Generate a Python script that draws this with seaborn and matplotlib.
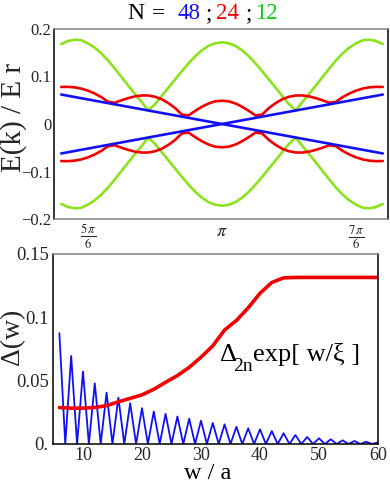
import numpy as np
import matplotlib
matplotlib.use("Agg")
import matplotlib.pyplot as plt
from matplotlib.transforms import IdentityTransform
import seaborn as sns

sns.set_theme(style="white")
plt.rcParams['font.family'] = ['Liberation Serif', 'DejaVu Serif']
plt.rcParams['mathtext.fontset'] = 'stix'

# ---- top panel: band energies E(k)/E_r, k from 0.8*pi to 1.2*pi ----
k_frac = np.linspace(0.8, 1.2, 49)

green_upper = [0.1683, 0.1748, 0.1775, 0.1763, 0.1696, 0.1607, 0.1485, 0.1336, 0.1165, 0.0988,
               0.0809, 0.0634, 0.0464, 0.0285, 0.0419, 0.0591, 0.0764, 0.0937, 0.1111, 0.1276,
               0.1427, 0.1552, 0.1645, 0.1701, 0.1720, 0.1701, 0.1645, 0.1552, 0.1427, 0.1276,
               0.1111, 0.0937, 0.0764, 0.0591, 0.0419, 0.0285, 0.0464, 0.0634, 0.0809, 0.0988,
               0.1165, 0.1336, 0.1485, 0.1607, 0.1696, 0.1763, 0.1775, 0.1748, 0.1683]
green_lower = [-0.1683, -0.1748, -0.1775, -0.1763, -0.1696, -0.1607, -0.1485, -0.1336, -0.1165, -0.0988,
               -0.0809, -0.0634, -0.0464, -0.0285, -0.0419, -0.0591, -0.0764, -0.0937, -0.1111, -0.1276,
               -0.1427, -0.1552, -0.1645, -0.1701, -0.1720, -0.1701, -0.1645, -0.1552, -0.1427, -0.1276,
               -0.1111, -0.0937, -0.0764, -0.0591, -0.0419, -0.0285, -0.0464, -0.0634, -0.0809, -0.0988,
               -0.1165, -0.1336, -0.1485, -0.1607, -0.1696, -0.1763, -0.1775, -0.1748, -0.1683]

red_upper = [0.0780, 0.0782, 0.0772, 0.0745, 0.0702, 0.0641, 0.0564, 0.0468, 0.0448, 0.0500,
             0.0545, 0.0581, 0.0601, 0.0600, 0.0574, 0.0521, 0.0440, 0.0335, 0.0200, 0.0180,
             0.0277, 0.0363, 0.0432, 0.0478, 0.0490, 0.0478, 0.0432, 0.0363, 0.0277, 0.0180,
             0.0200, 0.0335, 0.0440, 0.0521, 0.0574, 0.0600, 0.0601, 0.0581, 0.0545, 0.0500,
             0.0448, 0.0468, 0.0564, 0.0641, 0.0702, 0.0745, 0.0772, 0.0782, 0.0780]
red_lower = [-0.0780, -0.0782, -0.0772, -0.0745, -0.0702, -0.0641, -0.0564, -0.0468, -0.0448, -0.0500,
             -0.0545, -0.0581, -0.0601, -0.0600, -0.0574, -0.0521, -0.0440, -0.0335, -0.0200, -0.0180,
             -0.0277, -0.0363, -0.0432, -0.0478, -0.0490, -0.0478, -0.0432, -0.0363, -0.0277, -0.0180,
             -0.0200, -0.0335, -0.0440, -0.0521, -0.0574, -0.0600, -0.0601, -0.0581, -0.0545, -0.0500,
             -0.0448, -0.0468, -0.0564, -0.0641, -0.0702, -0.0745, -0.0772, -0.0782, -0.0780]

blue_k_frac = [0.8, 1.0, 1.2]
blue_down = [0.062, 0.0, -0.062]
blue_up = [-0.062, 0.0, 0.062]

top_yticks = [-0.2, -0.1, 0.0, 0.1, 0.2]
top_ylabels = ["\u22120.2", "\u22120.1", "0", "0.1", "0.2"]
top_xticks_frac = [5 / 6, 1.0, 7 / 6]
top_xlabels = [r"$\frac{5\,\pi}{6}$", r"$\pi$", r"$\frac{7\,\pi}{6}$"]

# ---- bottom panel: gap vs width ----
w_blue = np.arange(6, 61)
gap_blue = [0.0875, 0, 0.0695, 0, 0.0572, 0, 0.0479, 0, 0.0405, 0, 0.0366, 0, 0.0322, 0,
            0.0283, 0, 0.0256, 0, 0.0238, 0, 0.0217, 0, 0.0200, 0, 0.0184, 0, 0.0166, 0,
            0.0155, 0, 0.0135, 0, 0.0124, 0, 0.0116, 0, 0.0102, 0, 0.0085, 0, 0.0071, 0,
            0.0055, 0, 0.0045, 0, 0.0037, 0, 0.0029, 0, 0.0024, 0, 0.0018, 0, 0.0013]
w_red = np.arange(6, 61, 2)
gap_red = [0.0288, 0.0283, 0.0283, 0.0288, 0.0303, 0.0333, 0.0360, 0.0388, 0.0432, 0.0487,
           0.0540, 0.0605, 0.0685, 0.0775, 0.0900, 0.0975, 0.1075, 0.1190, 0.1275, 0.1312,
           0.1315, 0.1315, 0.1315, 0.1315, 0.1315, 0.1315, 0.1315, 0.1315]

bot_xticks = [10, 20, 30, 40, 50, 60]
bot_yticks = [0.0, 0.05, 0.1, 0.15]
bot_ylabels = ["0.", "0.05", "0.1", "0.15"]

BLUE = "#1010f0"
RED = "#f00000"
GREEN = "#8ce21c"
GRAY = "#808080"

W, H = 390, 484
fig = plt.figure(figsize=(W / 100, H / 100), dpi=100)


def px_axes(left, top, right, bottom):
    return fig.add_axes([left / W, 1 - bottom / H, (right - left) / W, (bottom - top) / H])


def frame(ax, colors):
    for side, c in colors.items():
        ax.spines[side].set_visible(True)
        ax.spines[side].set_color(c)
        ax.spines[side].set_linewidth(1.1)


# top panel
ax1 = px_axes(54, 29, 388, 219)
k = np.pi * k_frac
kb = np.pi * np.array(blue_k_frac)
for y in (green_upper, green_lower):
    sns.lineplot(x=k, y=y, ax=ax1, color=GREEN, lw=1.9, sort=False, estimator=None)
for y in (red_upper, red_lower):
    sns.lineplot(x=k, y=y, ax=ax1, color=RED, lw=1.9, sort=False, estimator=None)
for y in (blue_down, blue_up):
    sns.lineplot(x=kb, y=y, ax=ax1, color=BLUE, lw=1.9, sort=False, estimator=None)

ax1.set_xlim(np.pi * (1 - 1.254 / 6), np.pi * (1 + 1.239 / 6))
ax1.set_ylim(-0.2, 0.2)
ax1.set_xticks(np.pi * np.array(top_xticks_frac))
ax1.set_xticklabels(top_xlabels, fontsize=13)
ax1.set_yticks(top_yticks)
ax1.set_yticklabels(top_ylabels, fontsize=12)
ax1.tick_params(axis="both", direction="in", length=2.5, width=0.8, color=GRAY, pad=2)
ax1.tick_params(axis="x", pad=3)
ax1.set_xlabel("")
ax1.set_ylabel("")
frame(ax1, {"top": GRAY, "bottom": GRAY, "left": "black", "right": "black"})

# bottom panel
ax2 = px_axes(53, 254, 378, 444)
sns.lineplot(x=w_blue, y=gap_blue, ax=ax2, color=BLUE, lw=1.3, sort=False, estimator=None)
sns.lineplot(x=w_red, y=gap_red, ax=ax2, color=RED, lw=2.6, sort=False, estimator=None)
ax2.set_xlim(4.92, 60)
ax2.set_ylim(0, 0.15)
ax2.set_xticks(bot_xticks)
ax2.set_xticklabels([str(t) for t in bot_xticks], fontsize=13)
ax2.set_yticks(bot_yticks)
ax2.set_yticklabels(bot_ylabels, fontsize=13.5)
ax2.tick_params(axis="both", direction="in", length=2.5, width=0.8, color=GRAY, pad=3)
ax2.tick_params(axis="x", pad=2.5)
ax2.set_xlabel("")
ax2.set_ylabel("")
frame(ax2, {"top": GRAY, "bottom": "black", "left": "black", "right": "black"})

ident = IdentityTransform()


def put(x, y_top, s, color="black", size=14):
    # x, y_top in image pixels (origin top-left), y is the baseline
    fig.text(x, H - y_top, s, color=color, fontsize=size, ha="left", va="baseline",
             transform=ident)


# title "N = 48;24 ;12"
put(127, 19, "N", size=17)
put(152, 19, "=", size=17)
put(177, 19, "48", BLUE, 16.5)
put(206, 19, ";", size=16.5)
put(216, 19, "24", RED, 16.5)
put(246, 19, ";", size=16.5)
put(255, 19, "12", "#10c810", 16.5)

# axis labels
fig.text(14 / W, 1 - 118 / H, "E(k) / E r", rotation=90, ha="center", va="center", fontsize=21)
fig.text(13 / W, 1 - 337 / H, "\u0394(w)", rotation=90, ha="center", va="center", fontsize=20)
put(184, 479, "w / a", size=17.5)

# annotation
put(220, 361, "\u0394", size=19)
put(233, 371, "2n", size=14)
put(253, 361, "exp[ w/\u03be ]", size=19)

fig.savefig("out.png", dpi=100)
